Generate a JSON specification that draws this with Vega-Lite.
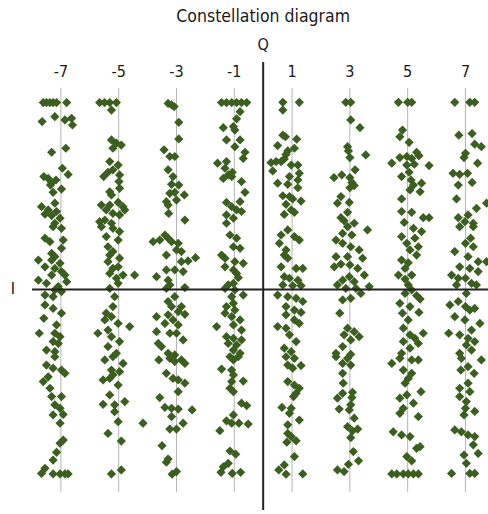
{
"$schema":"https://vega.github.io/schema/vega-lite/v6.json",
"width":456,"height":448,
"autosize":{"type":"none"},
"padding":{"left":32,"top":62,"right":0,"bottom":4},
"background":"white",
"config":{"view":{"stroke":null}},
"datasets":{
"grid":[{"v":-7,"lab":"-7"},{"v":-5,"lab":"-5"},{"v":-3,"lab":"-3"},{"v":-1,"lab":"-1"},{"v":1,"lab":"1"},{"v":3,"lab":"3"},{"v":5,"lab":"5"},{"v":7,"lab":"7"}],
"pts":[
{"i":-7.61,"q":7.0},{"i":-7.5,"q":7.0},{"i":-7.38,"q":7.0},{"i":-7.27,"q":7.0},{"i":-7.15,"q":7.0},{"i":-6.8,"q":7.0},
{"i":-7.21,"q":6.47},{"i":-7.65,"q":6.29},{"i":-6.86,"q":6.35},{"i":-6.63,"q":6.41},{"i":-6.6,"q":6.16},
{"i":-6.83,"q":5.29},{"i":-7.32,"q":5.14},{"i":-6.95,"q":4.54},{"i":-6.75,"q":4.31},{"i":-7.59,"q":4.23},{"i":-7.44,"q":4.16},{"i":-7.32,"q":4.01},{"i":-7.17,"q":4.1},{"i":-7.36,"q":3.91},{"i":-6.98,"q":3.76},{"i":-7.27,"q":3.64},
{"i":-7.67,"q":3.1},{"i":-7.21,"q":3.23},{"i":-7.44,"q":2.98},{"i":-7.15,"q":2.92},{"i":-7.55,"q":2.82},{"i":-7.32,"q":2.77},{"i":-7.03,"q":2.67},{"i":-7.21,"q":2.48},
{"i":-7.27,"q":2.35},{"i":-6.98,"q":2.29},{"i":-7.55,"q":1.92},{"i":-7.38,"q":1.79},{"i":-6.92,"q":1.85},{"i":-6.98,"q":1.54},{"i":-7.32,"q":1.35},{"i":-7.21,"q":1.23},{"i":-7.78,"q":1.1},{"i":-7.32,"q":1.1},{"i":-7.03,"q":0.98},{"i":-7.55,"q":0.85},{"i":-7.21,"q":0.79},{"i":-6.98,"q":0.67},{"i":-7.32,"q":0.54},{"i":-6.86,"q":0.54},{"i":-7.78,"q":0.35},{"i":-6.8,"q":0.29},{"i":-7.5,"q":0.23},{"i":-7.09,"q":0.11},{"i":-7.21,"q":-0.02},{"i":-6.98,"q":-0.08},{"i":-7.55,"q":-0.21},{"i":-7.27,"q":-0.27},{"i":-7.55,"q":-0.58},{"i":-7.27,"q":-0.71},{"i":-6.98,"q":-0.89},{"i":-7.59,"q":-1.08},{"i":-7.15,"q":-1.33},{"i":-7.75,"q":-1.64},{"i":-7.21,"q":-1.64},{"i":-7.03,"q":-1.77},{"i":-7.27,"q":-1.95},{"i":-7.09,"q":-2.02},{"i":-7.5,"q":-2.27},{"i":-7.21,"q":-2.33},
{"i":-7.21,"q":-2.52},{"i":-7.5,"q":-2.83},{"i":-7.27,"q":-2.95},{"i":-6.98,"q":-3.02},{"i":-6.86,"q":-3.14},{"i":-7.44,"q":-3.27},{"i":-7.61,"q":-3.45},{"i":-7.38,"q":-3.7},{"i":-7.32,"q":-4.01},{"i":-6.98,"q":-4.01},{"i":-7.21,"q":-4.32},{"i":-7.03,"q":-4.45},{"i":-6.92,"q":-4.68},{"i":-7.27,"q":-4.7},{"i":-7.03,"q":-5.01},{"i":-6.92,"q":-5.64},{"i":-7.03,"q":-5.76},{"i":-7.15,"q":-6.1},{"i":-7.27,"q":-6.39},{"i":-7.55,"q":-6.7},{"i":-7.67,"q":-6.89},{"i":-7.27,"q":-6.91},{"i":-7.03,"q":-6.91},{"i":-6.86,"q":-6.91},{"i":-6.75,"q":-6.91},
{"i":-5.66,"q":7.0},{"i":-5.49,"q":7.0},{"i":-5.31,"q":7.0},{"i":-5.08,"q":7.0},{"i":-5.25,"q":6.72},{"i":-5.25,"q":5.6},{"i":-5.08,"q":5.48},{"i":-4.91,"q":5.41},{"i":-5.2,"q":5.29},{"i":-5.31,"q":4.79},{"i":-5.02,"q":4.66},{"i":-5.2,"q":4.48},{"i":-5.37,"q":4.39},{"i":-5.52,"q":4.23},{"i":-4.97,"q":4.29},{"i":-4.99,"q":4.04},{"i":-4.97,"q":3.79},{"i":-5.31,"q":3.66},{"i":-5.25,"q":3.54},{"i":-5.02,"q":3.26},{"i":-5.6,"q":3.16},{"i":-5.31,"q":3.16},{"i":-4.85,"q":3.1},{"i":-5.43,"q":2.98},{"i":-4.79,"q":2.98},{"i":-5.2,"q":2.85},{"i":-4.97,"q":2.79},{"i":-5.48,"q":2.6},{"i":-5.66,"q":2.54},{"i":-5.25,"q":2.48},
{"i":-5.6,"q":2.35},{"i":-5.2,"q":2.29},{"i":-4.97,"q":2.17},{"i":-5.43,"q":1.98},{"i":-5.02,"q":1.85},{"i":-5.37,"q":1.6},{"i":-5.2,"q":1.42},{"i":-5.31,"q":1.29},{"i":-4.97,"q":1.17},{"i":-5.37,"q":1.04},{"i":-5.02,"q":0.85},{"i":-5.2,"q":0.79},{"i":-5.31,"q":0.6},{"i":-4.85,"q":0.54},{"i":-4.45,"q":0.54},{"i":-5.08,"q":0.42},{"i":-5.02,"q":0.23},{"i":-5.31,"q":0.04},{"i":-5.14,"q":-0.27},{"i":-5.2,"q":-0.64},{"i":-5.43,"q":-0.89},{"i":-5.25,"q":-1.02},{"i":-5.48,"q":-1.14},{"i":-5.02,"q":-1.27},{"i":-4.62,"q":-1.39},{"i":-5.37,"q":-1.52},{"i":-5.72,"q":-1.64},{"i":-5.25,"q":-1.77},{"i":-4.97,"q":-1.95},{"i":-5.37,"q":-2.14},{"i":-5.08,"q":-2.39},
{"i":-5.2,"q":-2.52},{"i":-5.48,"q":-2.64},{"i":-4.85,"q":-2.77},{"i":-5.25,"q":-3.02},{"i":-4.97,"q":-3.08},{"i":-5.2,"q":-3.2},{"i":-5.54,"q":-3.39},{"i":-5.31,"q":-3.33},{"i":-5.02,"q":-3.58},{"i":-5.31,"q":-3.95},{"i":-4.79,"q":-4.2},{"i":-5.54,"q":-4.3},{"i":-5.14,"q":-4.32},{"i":-5.14,"q":-4.58},{"i":-5.02,"q":-4.95},{"i":-4.16,"q":-5.01},{"i":-5.37,"q":-5.39},{"i":-4.91,"q":-5.68},{"i":-4.91,"q":-6.76},{"i":-5.25,"q":-6.91},
{"i":-3.29,"q":6.97},{"i":-3.17,"q":6.91},{"i":-3.08,"q":6.85},{"i":-2.92,"q":6.26},{"i":-2.92,"q":5.64},{"i":-3.43,"q":5.23},{"i":-3.23,"q":4.98},{"i":-3.06,"q":4.98},{"i":-3.29,"q":4.48},{"i":-3.12,"q":4.23},{"i":-3.17,"q":3.94},{"i":-2.92,"q":3.91},{"i":-3.23,"q":3.6},{"i":-3.06,"q":3.64},{"i":-2.73,"q":3.54},{"i":-3.0,"q":3.35},{"i":-3.35,"q":3.29},{"i":-3.29,"q":3.16},{"i":-3.27,"q":2.85},{"i":-2.71,"q":2.6},
{"i":-3.4,"q":2.04},{"i":-3.29,"q":1.92},{"i":-3.81,"q":1.79},{"i":-3.58,"q":1.85},{"i":-3.17,"q":1.79},{"i":-2.94,"q":1.73},{"i":-3.0,"q":1.48},{"i":-2.83,"q":1.42},{"i":-3.35,"q":1.29},{"i":-2.34,"q":1.19},{"i":-2.6,"q":1.07},{"i":-2.83,"q":1.04},{"i":-3.35,"q":0.73},{"i":-3.06,"q":0.73},{"i":-2.77,"q":0.67},{"i":-3.69,"q":0.48},{"i":-3.29,"q":0.35},{"i":-3.23,"q":0.17},{"i":-3.35,"q":0.04},{"i":-2.71,"q":0.07},{"i":-3.06,"q":-0.27},{"i":-3.29,"q":-0.45},{"i":-3.17,"q":-0.64},{"i":-2.83,"q":-0.64},{"i":-2.94,"q":-0.83},{"i":-2.71,"q":-0.93},{"i":-3.29,"q":-0.95},{"i":-3.69,"q":-1.02},{"i":-3.12,"q":-1.14},{"i":-3.4,"q":-1.27},{"i":-2.94,"q":-1.33},{"i":-3.69,"q":-1.58},{"i":-3.23,"q":-1.64},{"i":-3.0,"q":-1.64},{"i":-2.77,"q":-1.89},{"i":-3.63,"q":-2.02},{"i":-3.52,"q":-2.14},{"i":-3.29,"q":-2.39},{"i":-3.06,"q":-2.45},
{"i":-3.61,"q":-2.64},{"i":-3.23,"q":-2.58},{"i":-3.06,"q":-2.7},{"i":-2.83,"q":-2.64},{"i":-2.71,"q":-2.77},{"i":-3.35,"q":-3.14},{"i":-3.12,"q":-3.33},{"i":-2.94,"q":-3.39},{"i":-2.71,"q":-3.51},{"i":-2.94,"q":-3.83},{"i":-3.58,"q":-4.05},{"i":-3.4,"q":-4.42},{"i":-3.17,"q":-4.45},{"i":-2.94,"q":-4.48},{"i":-2.46,"q":-4.51},{"i":-3.17,"q":-4.76},{"i":-2.77,"q":-5.01},{"i":-3.23,"q":-5.23},{"i":-3.0,"q":-5.23},{"i":-3.5,"q":-5.85},{"i":-3.29,"q":-6.35},{"i":-3.35,"q":-6.47},{"i":-3.0,"q":-6.82},{"i":-3.15,"q":-6.92},
{"i":-1.44,"q":7.0},{"i":-1.27,"q":7.0},{"i":-1.09,"q":7.0},{"i":-0.92,"q":7.0},{"i":-0.75,"q":7.0},{"i":-0.57,"q":7.0},{"i":-0.8,"q":6.66},{"i":-0.92,"q":6.39},{"i":-1.38,"q":6.06},{"i":-1.03,"q":6.1},{"i":-0.98,"q":5.97},{"i":-1.27,"q":5.6},{"i":-0.8,"q":5.6},{"i":-0.98,"q":5.35},{"i":-0.63,"q":5.14},{"i":-0.69,"q":4.91},{"i":-1.27,"q":4.79},{"i":-1.58,"q":4.73},{"i":-1.32,"q":4.54},{"i":-1.07,"q":4.39},{"i":-1.21,"q":4.29},{"i":-1.38,"q":4.16},{"i":-1.09,"q":4.23},{"i":-0.75,"q":4.04},{"i":-0.63,"q":3.64},{"i":-1.27,"q":3.26},{"i":-0.8,"q":3.29},{"i":-1.09,"q":3.1},{"i":-0.92,"q":2.98},{"i":-0.75,"q":2.92},{"i":-1.27,"q":2.79},{"i":-1.03,"q":2.67},{"i":-1.27,"q":2.48},
{"i":-1.15,"q":2.04},{"i":-0.92,"q":1.92},{"i":-1.03,"q":1.6},{"i":-0.8,"q":1.54},{"i":-1.44,"q":1.29},{"i":-1.32,"q":1.17},{"i":-0.98,"q":1.04},{"i":-0.69,"q":0.98},{"i":-1.32,"q":0.85},{"i":-1.03,"q":0.73},{"i":-0.92,"q":0.6},{"i":-0.86,"q":0.44},{"i":-1.03,"q":0.23},{"i":-1.21,"q":0.17},{"i":-1.32,"q":0.04},{"i":-0.98,"q":-0.02},{"i":-0.69,"q":-0.21},{"i":-1.09,"q":-0.27},{"i":-1.03,"q":-0.52},{"i":-1.27,"q":-0.64},{"i":-0.98,"q":-0.77},{"i":-1.32,"q":-0.89},{"i":-1.09,"q":-1.02},{"i":-0.8,"q":-1.14},{"i":-1.03,"q":-1.33},{"i":-1.61,"q":-1.39},{"i":-0.75,"q":-1.52},{"i":-1.27,"q":-1.77},{"i":-1.03,"q":-1.83},{"i":-0.75,"q":-1.89},{"i":-1.21,"q":-2.02},{"i":-0.92,"q":-2.08},{"i":-1.03,"q":-2.27},{"i":-0.8,"q":-2.39},
{"i":-1.15,"q":-2.52},{"i":-0.86,"q":-2.52},{"i":-1.03,"q":-2.64},{"i":-1.44,"q":-2.98},{"i":-1.09,"q":-3.02},{"i":-1.03,"q":-3.2},{"i":-0.69,"q":-3.43},{"i":-1.09,"q":-3.45},{"i":-1.15,"q":-3.7},{"i":-1.03,"q":-3.83},{"i":-0.75,"q":-4.26},{"i":-0.57,"q":-4.35},{"i":-1.03,"q":-4.7},{"i":-1.27,"q":-4.92},{"i":-1.09,"q":-5.01},{"i":-0.84,"q":-5.01},{"i":-0.52,"q":-5.04},{"i":-1.5,"q":-5.29},{"i":-1.15,"q":-6.05},{"i":-0.95,"q":-6.17},{"i":-1.21,"q":-6.51},{"i":-1.38,"q":-6.64},{"i":-1.46,"q":-6.85},{"i":-1.07,"q":-6.89},{"i":-0.78,"q":-6.85},
{"i":0.68,"q":7.01},{"i":1.25,"q":7.01},{"i":0.68,"q":6.72},{"i":0.68,"q":5.78},{"i":0.77,"q":5.72},{"i":1.16,"q":5.63},{"i":0.5,"q":5.39},{"i":1.08,"q":5.29},{"i":0.85,"q":5.19},{"i":0.79,"q":5.06},{"i":0.73,"q":4.89},{"i":0.45,"q":4.79},{"i":0.27,"q":4.75},{"i":0.62,"q":4.79},{"i":0.97,"q":4.66},{"i":1.2,"q":4.66},{"i":0.33,"q":4.44},{"i":1.25,"q":4.35},{"i":0.91,"q":4.23},{"i":1.2,"q":4.1},{"i":0.5,"q":3.98},{"i":0.85,"q":3.94},{"i":1.2,"q":3.81},{"i":0.68,"q":3.51},{"i":0.91,"q":3.48},{"i":1.02,"q":3.39},{"i":1.31,"q":3.31},{"i":0.79,"q":3.19},{"i":0.97,"q":2.98},{"i":1.08,"q":2.89},{"i":0.73,"q":2.81},
{"i":0.85,"q":2.23},{"i":0.62,"q":2.04},{"i":1.08,"q":1.98},{"i":1.25,"q":1.85},{"i":0.56,"q":1.73},{"i":0.79,"q":1.48},{"i":0.73,"q":1.29},{"i":0.85,"q":1.17},{"i":0.62,"q":0.85},{"i":1.14,"q":0.79},{"i":1.37,"q":0.79},{"i":0.73,"q":0.48},{"i":0.91,"q":0.42},{"i":1.2,"q":0.35},{"i":0.68,"q":0.17},{"i":1.02,"q":0.14},{"i":1.31,"q":0.14},{"i":0.5,"q":-0.21},{"i":0.85,"q":-0.27},{"i":1.14,"q":-0.33},{"i":1.37,"q":-0.45},{"i":0.79,"q":-0.64},{"i":1.08,"q":-0.77},{"i":1.31,"q":-0.86},{"i":0.79,"q":-0.95},{"i":1.08,"q":-1.14},{"i":1.25,"q":-1.27},{"i":0.5,"q":-1.39},{"i":0.79,"q":-1.45},{"i":0.91,"q":-1.7},{"i":1.14,"q":-1.95},{"i":0.73,"q":-2.2},{"i":0.97,"q":-2.33},
{"i":0.79,"q":-2.52},{"i":1.08,"q":-2.58},{"i":0.85,"q":-2.83},{"i":1.31,"q":-2.85},{"i":1.02,"q":-2.95},{"i":0.85,"q":-3.45},{"i":1.08,"q":-3.58},{"i":1.25,"q":-3.7},{"i":1.14,"q":-3.89},{"i":1.05,"q":-4.01},{"i":0.65,"q":-4.42},{"i":0.97,"q":-4.45},{"i":0.91,"q":-4.64},{"i":1.25,"q":-4.89},{"i":0.85,"q":-5.07},{"i":0.85,"q":-5.39},{"i":0.97,"q":-5.51},{"i":1.14,"q":-5.67},{"i":0.82,"q":-5.72},{"i":1.08,"q":-6.26},{"i":0.73,"q":-6.57},{"i":0.54,"q":-6.76},{"i":0.79,"q":-6.92},{"i":1.37,"q":-6.91},
{"i":2.86,"q":7.01},{"i":3.03,"q":7.01},{"i":3.03,"q":6.35},{"i":3.35,"q":6.06},{"i":2.92,"q":5.35},{"i":2.95,"q":5.19},{"i":3.55,"q":5.04},{"i":3.0,"q":4.94},{"i":3.18,"q":4.48},{"i":2.72,"q":4.29},{"i":2.45,"q":4.19},{"i":3.0,"q":4.19},{"i":3.07,"q":4.01},{"i":3.15,"q":3.89},{"i":3.0,"q":3.81},{"i":2.69,"q":3.48},{"i":2.98,"q":3.26},{"i":2.57,"q":3.23},{"i":2.92,"q":2.89},{"i":2.69,"q":2.69},{"i":2.8,"q":2.57},{"i":3.15,"q":2.48},
{"i":2.92,"q":2.35},{"i":3.61,"q":2.23},{"i":2.75,"q":2.1},{"i":3.07,"q":2.04},{"i":2.52,"q":1.85},{"i":2.75,"q":1.73},{"i":3.03,"q":1.6},{"i":3.32,"q":1.48},{"i":2.52,"q":1.23},{"i":2.92,"q":1.23},{"i":3.44,"q":1.17},{"i":2.69,"q":0.95},{"i":3.0,"q":0.92},{"i":2.46,"q":0.85},{"i":3.27,"q":0.79},{"i":3.5,"q":0.54},{"i":2.98,"q":0.48},{"i":2.75,"q":0.35},{"i":3.15,"q":0.29},{"i":2.57,"q":0.17},{"i":3.67,"q":0.11},{"i":2.86,"q":0.04},{"i":3.21,"q":0.04},{"i":3.38,"q":-0.15},{"i":3.03,"q":-0.33},{"i":2.75,"q":-0.39},{"i":2.65,"q":-0.89},{"i":2.92,"q":-1.45},{"i":3.15,"q":-1.58},{"i":2.8,"q":-1.7},{"i":3.32,"q":-1.77},{"i":3.03,"q":-1.89},{"i":2.75,"q":-2.14},{"i":2.52,"q":-2.39},{"i":3.03,"q":-2.43},
{"i":2.52,"q":-2.52},{"i":2.92,"q":-2.58},{"i":2.75,"q":-2.77},{"i":3.03,"q":-2.83},{"i":2.75,"q":-3.14},{"i":2.77,"q":-3.51},{"i":3.09,"q":-3.85},{"i":2.75,"q":-3.89},{"i":2.57,"q":-4.07},{"i":3.07,"q":-4.05},{"i":3.03,"q":-4.32},{"i":2.63,"q":-4.48},{"i":2.98,"q":-4.51},{"i":3.15,"q":-4.82},{"i":2.92,"q":-5.14},{"i":3.27,"q":-5.23},{"i":3.09,"q":-5.3},{"i":3.03,"q":-5.55},{"i":3.12,"q":-6.07},{"i":3.3,"q":-6.42},{"i":2.95,"q":-6.55},{"i":2.57,"q":-6.76},{"i":2.8,"q":-6.82},
{"i":4.68,"q":7.01},{"i":5.0,"q":7.01},{"i":5.14,"q":7.01},{"i":4.82,"q":5.97},{"i":4.73,"q":5.72},{"i":5.05,"q":5.51},{"i":5.31,"q":5.14},{"i":5.39,"q":5.01},{"i":4.73,"q":4.94},{"i":4.97,"q":4.98},{"i":5.14,"q":4.91},{"i":4.45,"q":4.73},{"i":4.97,"q":4.66},{"i":5.23,"q":4.69},{"i":5.74,"q":4.64},{"i":5.05,"q":4.39},{"i":4.79,"q":4.23},{"i":5.12,"q":4.1},{"i":5.48,"q":3.98},{"i":5.2,"q":3.91},{"i":5.08,"q":3.73},{"i":5.43,"q":3.66},{"i":4.79,"q":3.39},{"i":4.79,"q":2.92},{"i":5.14,"q":2.89},{"i":5.54,"q":2.69},{"i":5.74,"q":2.69},{"i":4.88,"q":2.51},
{"i":5.2,"q":2.29},{"i":5.48,"q":2.17},{"i":4.79,"q":1.98},{"i":5.25,"q":1.92},{"i":4.97,"q":1.73},{"i":5.37,"q":1.6},{"i":5.08,"q":1.48},{"i":5.31,"q":1.29},{"i":4.79,"q":1.1},{"i":5.02,"q":1.0},{"i":4.91,"q":0.79},{"i":4.68,"q":0.54},{"i":5.14,"q":0.54},{"i":4.91,"q":0.39},{"i":5.02,"q":0.17},{"i":5.14,"q":-0.02},{"i":4.91,"q":-0.15},{"i":5.31,"q":-0.23},{"i":5.43,"q":-0.36},{"i":4.73,"q":-0.52},{"i":5.08,"q":-0.64},{"i":5.39,"q":-0.86},{"i":4.82,"q":-0.89},{"i":5.02,"q":-1.14},{"i":4.85,"q":-1.45},{"i":5.54,"q":-1.64},{"i":5.08,"q":-1.7},{"i":5.25,"q":-1.83},{"i":4.85,"q":-1.95},{"i":5.37,"q":-2.02},{"i":5.08,"q":-2.2},{"i":4.79,"q":-2.39},
{"i":4.73,"q":-2.58},{"i":5.14,"q":-2.64},{"i":5.37,"q":-2.64},{"i":4.45,"q":-2.77},{"i":4.85,"q":-3.02},{"i":5.14,"q":-3.14},{"i":5.02,"q":-3.33},{"i":4.91,"q":-3.51},{"i":5.46,"q":-3.83},{"i":4.97,"q":-3.95},{"i":4.73,"q":-4.07},{"i":5.2,"q":-4.26},{"i":4.85,"q":-4.45},{"i":4.73,"q":-4.64},{"i":5.37,"q":-4.76},{"i":4.5,"q":-5.33},{"i":4.79,"q":-5.45},{"i":5.08,"q":-5.51},{"i":5.43,"q":-5.89},{"i":5.31,"q":-5.95},{"i":4.97,"q":-6.26},{"i":5.14,"q":-6.42},{"i":4.45,"q":-6.91},{"i":4.62,"q":-6.91},{"i":4.85,"q":-6.91},{"i":5.02,"q":-6.91},{"i":5.2,"q":-6.91},{"i":5.37,"q":-6.91},
{"i":6.63,"q":7.01},{"i":7.15,"q":7.01},{"i":7.32,"q":7.01},{"i":6.77,"q":5.78},{"i":7.23,"q":5.84},{"i":7.32,"q":5.44},{"i":7.55,"q":5.35},{"i":7.0,"q":5.1},{"i":6.95,"q":4.94},{"i":7.42,"q":4.73},{"i":6.57,"q":4.35},{"i":6.8,"q":4.31},{"i":7.07,"q":4.35},{"i":7.23,"q":4.01},{"i":6.75,"q":3.91},{"i":6.69,"q":3.39},{"i":7.73,"q":3.23},{"i":7.38,"q":3.04},{"i":7.09,"q":2.79},{"i":6.75,"q":2.69},{"i":6.98,"q":2.54},{"i":7.27,"q":2.48},
{"i":6.8,"q":2.35},{"i":7.27,"q":2.35},{"i":7.18,"q":1.92},{"i":7.0,"q":1.73},{"i":7.27,"q":1.6},{"i":6.63,"q":1.42},{"i":7.09,"q":1.23},{"i":7.44,"q":1.04},{"i":7.73,"q":1.04},{"i":6.8,"q":0.85},{"i":7.15,"q":0.79},{"i":7.44,"q":0.67},{"i":6.52,"q":0.54},{"i":6.75,"q":0.42},{"i":7.0,"q":0.42},{"i":7.21,"q":0.23},{"i":6.69,"q":0.17},{"i":7.38,"q":0.17},{"i":7.03,"q":-0.15},{"i":6.75,"q":-0.45},{"i":6.46,"q":-0.58},{"i":7.0,"q":-0.64},{"i":7.32,"q":-0.71},{"i":7.15,"q":-0.77},{"i":6.63,"q":-1.02},{"i":6.98,"q":-1.14},{"i":7.5,"q":-1.27},{"i":7.21,"q":-1.52},{"i":6.42,"q":-1.64},{"i":6.8,"q":-1.7},{"i":7.09,"q":-1.83},{"i":7.32,"q":-1.95},{"i":7.03,"q":-2.08},{"i":7.21,"q":-2.27},{"i":6.8,"q":-2.39},
{"i":6.86,"q":-2.58},{"i":7.55,"q":-2.64},{"i":7.09,"q":-2.89},{"i":6.84,"q":-3.02},{"i":7.3,"q":-3.14},{"i":7.09,"q":-3.51},{"i":6.8,"q":-3.7},{"i":7.15,"q":-3.83},{"i":6.8,"q":-4.01},{"i":7.03,"q":-4.2},{"i":7.0,"q":-4.45},{"i":7.32,"q":-4.57},{"i":6.95,"q":-4.7},{"i":6.63,"q":-5.26},{"i":6.86,"q":-5.33},{"i":7.09,"q":-5.45},{"i":7.32,"q":-5.51},{"i":7.27,"q":-5.82},{"i":7.44,"q":-6.14},{"i":6.95,"q":-6.2},{"i":7.03,"q":-6.51},{"i":6.52,"q":-6.89},{"i":7.15,"q":-6.89},{"i":7.32,"q":-6.89}
]},
"layer":[
{"data":{"name":"grid"},"mark":{"type":"rule","color":"#b4b4b4","strokeWidth":1},
 "encoding":{"x":{"field":"v","type":"quantitative","scale":{"domain":[-8,7.78],"nice":false,"zero":false},"axis":null},
 "y":{"datum":7.55,"type":"quantitative","scale":{"domain":[-8.26,8.52],"nice":false,"zero":false},"axis":null},"y2":{"datum":-7.58}}},
{"data":{"name":"grid"},"mark":{"type":"text","fontSize":16,"font":"Liberation Sans Narrow, DejaVu Sans Condensed, Roboto Condensed, Roboto, sans-serif","color":"#1a1a1a","baseline":"middle","align":"center"},
 "encoding":{"x":{"field":"v","type":"quantitative","scale":{"domain":[-8,7.78],"nice":false,"zero":false},"axis":null},
 "y":{"datum":8.15,"type":"quantitative","scale":{"domain":[-8.26,8.52],"nice":false,"zero":false},"axis":null},"text":{"field":"lab","type":"nominal"}}},
{"data":{"name":"pts"},"mark":{"type":"point","shape":"diamond","filled":true,"size":85,"color":"#3b5f1f","opacity":1,"clip":true},
 "encoding":{"x":{"field":"i","type":"quantitative","scale":{"domain":[-8,7.78],"nice":false,"zero":false},"axis":null},
 "y":{"field":"q","type":"quantitative","scale":{"domain":[-8.26,8.52],"nice":false,"zero":false},"axis":null}}},
{"data":{"values":[{}]},"mark":{"type":"rule","color":"#222222","strokeWidth":2},
 "encoding":{"y":{"datum":0,"type":"quantitative","scale":{"domain":[-8.26,8.52],"nice":false,"zero":false},"axis":null}}},
{"data":{"values":[{}]},"mark":{"type":"rule","color":"#222222","strokeWidth":2},
 "encoding":{"x":{"datum":0,"type":"quantitative","scale":{"domain":[-8,7.78],"nice":false,"zero":false},"axis":null}}},
{"data":{"values":[{"lab":"Q","ix":0,"qy":9.16,"fs":16},{"lab":"I","ix":-8.66,"qy":0,"fs":16},{"lab":"Constellation diagram","ix":0,"qy":10.2,"fs":17.5}]},"mark":{"type":"text","font":"Liberation Sans Narrow, DejaVu Sans Condensed, Roboto Condensed, Roboto, sans-serif","color":"#1a1a1a","baseline":"middle","align":"center"},
 "encoding":{"x":{"field":"ix","type":"quantitative","scale":{"domain":[-8,7.78],"nice":false,"zero":false},"axis":null},
 "y":{"field":"qy","type":"quantitative","scale":{"domain":[-8.26,8.52],"nice":false,"zero":false},"axis":null},"text":{"field":"lab","type":"nominal"},"size":{"field":"fs","type":"quantitative","scale":null}}}
]
}
